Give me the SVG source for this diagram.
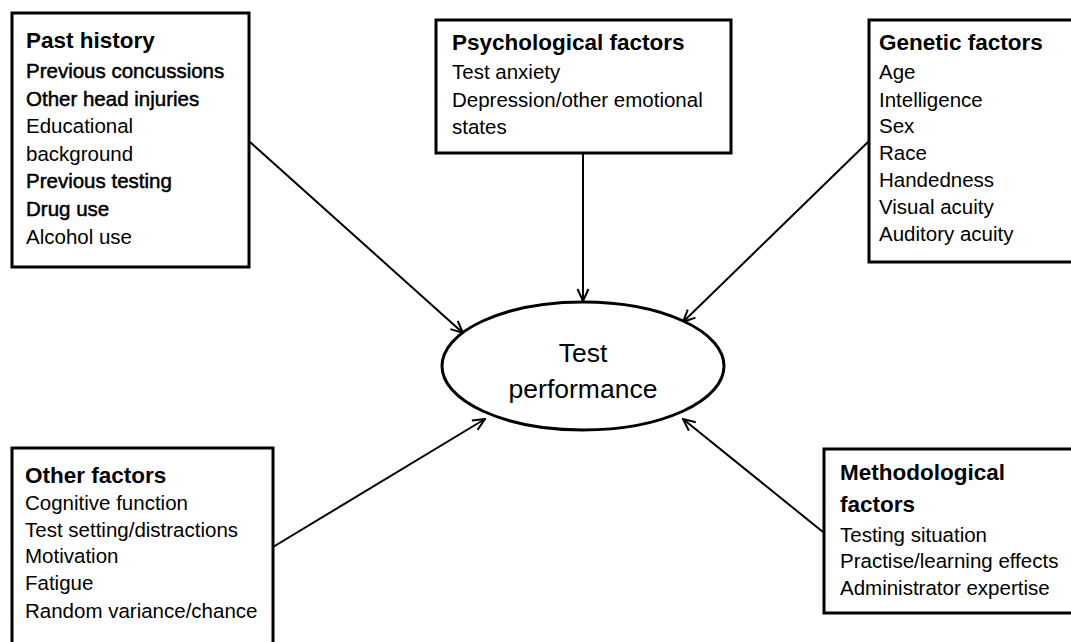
<svg xmlns="http://www.w3.org/2000/svg" width="1071" height="642" viewBox="0 0 1071 642">
<defs>
<style>
.box{fill:#fff;stroke:#000;stroke-width:3}
.t{font-family:"Liberation Sans",Arial,sans-serif;font-size:22.5px;font-weight:bold;fill:#000}
.b{font-family:"Liberation Sans",Arial,sans-serif;font-size:20.5px;fill:#000}
.sb{stroke:#000;stroke-width:0.5}
.c{font-family:"Liberation Sans",Arial,sans-serif;font-size:26.5px;fill:#000;text-anchor:middle}
.ln{stroke:#000;stroke-width:2;fill:none}
</style>
<marker id="ah" viewBox="0 0 14 14" refX="13" refY="7" markerWidth="14" markerHeight="14" markerUnits="userSpaceOnUse" orient="auto">
<path d="M1,1.5 L13,7 L1,12.5" fill="none" stroke="#000" stroke-width="2"/>
</marker>
</defs>
<rect width="1071" height="642" fill="#fff"/>
<g id="connectors">
<line class="ln" x1="250" y1="142" x2="463" y2="333" marker-end="url(#ah)"/>
<line class="ln" x1="583" y1="154" x2="583" y2="301" stroke-width="3" marker-end="url(#ah)"/>
<line class="ln" x1="869" y1="141" x2="683" y2="322" marker-end="url(#ah)"/>
<line class="ln" x1="273" y1="547" x2="485" y2="419" marker-end="url(#ah)"/>
<line class="ln" x1="823" y1="532" x2="683" y2="419" marker-end="url(#ah)"/>
</g>
<g id="past-history">
<rect class="box" x="12" y="13" width="237" height="254" stroke-width="4"/>
<text class="t" x="26" y="48">Past history</text>
<text class="b sb" x="26" y="78">Previous concussions</text>
<text class="b sb" x="26" y="106">Other head injuries</text>
<text class="b" x="26" y="133">Educational</text>
<text class="b" x="26" y="161">background</text>
<text class="b sb" x="26" y="188">Previous testing</text>
<text class="b sb" x="26" y="216">Drug use</text>
<text class="b" x="26" y="244">Alcohol use</text>
</g>
<g id="psychological-factors">
<rect class="box" x="436" y="20" width="295" height="133"/>
<text class="t" x="452" y="50">Psychological factors</text>
<text class="b" x="452" y="79">Test anxiety</text>
<text class="b" x="452" y="107">Depression/other emotional</text>
<text class="b" x="452" y="134">states</text>
</g>
<g id="genetic-factors">
<rect class="box" x="869" y="20" width="204" height="242"/>
<text class="t" x="879" y="50">Genetic factors</text>
<text class="b" x="879" y="79">Age</text>
<text class="b" x="879" y="107">Intelligence</text>
<text class="b" x="879" y="133">Sex</text>
<text class="b" x="879" y="160">Race</text>
<text class="b" x="879" y="187">Handedness</text>
<text class="b" x="879" y="214">Visual acuity</text>
<text class="b" x="879" y="241">Auditory acuity</text>
</g>
<g id="test-performance">
<ellipse cx="583" cy="366" rx="141" ry="64" fill="#fff" stroke="#000" stroke-width="3"/>
<text class="c" x="583" y="362">Test</text>
<text class="c" x="583" y="398">performance</text>
</g>
<g id="other-factors">
<rect class="box" x="12" y="448" width="261" height="200"/>
<text class="t" x="25" y="483">Other factors</text>
<text class="b" x="25" y="510">Cognitive function</text>
<text class="b" x="25" y="537">Test setting/distractions</text>
<text class="b" x="25" y="563">Motivation</text>
<text class="b" x="25" y="590">Fatigue</text>
<text class="b" x="25" y="618">Random variance/chance</text>
</g>
<g id="methodological-factors">
<rect class="box" x="824" y="449" width="250" height="164"/>
<text class="t" x="840" y="480">Methodological</text>
<text class="t" x="840" y="512">factors</text>
<text class="b" x="840" y="542">Testing situation</text>
<text class="b" x="840" y="568">Practise/learning effects</text>
<text class="b" x="840" y="595">Administrator expertise</text>
</g>
</svg>
